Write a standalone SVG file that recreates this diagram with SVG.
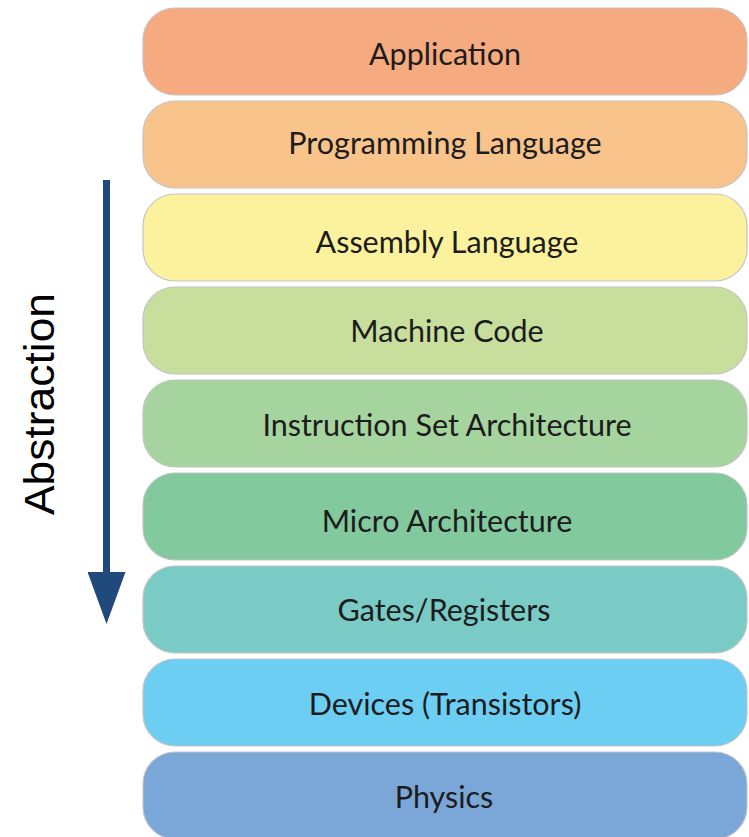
<svg xmlns="http://www.w3.org/2000/svg" width="749" height="837" viewBox="0 0 749 837">
  <style>
    .layer rect { stroke: #c4c4c4; stroke-width: 1.2; }
    .layer text { font-family: Lato, "Open Sans", "Liberation Sans", sans-serif; font-size: 30.5px; fill: #1c1c1c; text-anchor: middle; }
    .axis-label { font-family: "Liberation Sans", Arial, sans-serif; font-size: 42px; fill: #000; text-anchor: middle; }
  </style>
  <defs>
    <marker id="arrowHead" markerUnits="userSpaceOnUse" markerWidth="52" markerHeight="38" refX="0" refY="19" orient="auto" viewBox="0 0 52 38">
      <path d="M0,0 L52,19 L0,38 Z" fill="#214a7c"/>
    </marker>
  </defs>
  <rect width="749" height="837" fill="#ffffff"/>

  <!-- abstraction stack, top to bottom -->
  <g id="application" class="layer">
    <rect x="143" y="8" width="604" height="87" rx="32" fill="#f6aa80"/>
    <text x="445" y="65">Application</text>
  </g>
  <g id="programming-language" class="layer">
    <rect x="143" y="101" width="604" height="87" rx="32" fill="#f9c48c"/>
    <text x="445" y="154">Programming Language</text>
  </g>
  <g id="assembly-language" class="layer">
    <rect x="143" y="194" width="604" height="87" rx="32" fill="#fcf29d"/>
    <text x="447" y="253">Assembly Language</text>
  </g>
  <g id="machine-code" class="layer">
    <rect x="143" y="287" width="604" height="87" rx="32" fill="#c7de9d"/>
    <text x="447" y="342">Machine Code</text>
  </g>
  <g id="isa" class="layer">
    <rect x="143" y="380" width="604" height="87" rx="32" fill="#a6d49e"/>
    <text x="447" y="436">Instruction Set Architecture</text>
  </g>
  <g id="micro-architecture" class="layer">
    <rect x="143" y="473" width="604" height="87" rx="32" fill="#82c99d"/>
    <text x="447" y="532">Micro Architecture</text>
  </g>
  <g id="gates-registers" class="layer">
    <rect x="143" y="566" width="604" height="87" rx="32" fill="#7acbc5"/>
    <text x="444" y="621">Gates/Registers</text>
  </g>
  <g id="devices" class="layer">
    <rect x="143" y="659" width="604" height="87" rx="32" fill="#6ccef3"/>
    <text x="445" y="715">Devices (Transistors)</text>
  </g>
  <g id="physics" class="layer">
    <rect x="143" y="752" width="604" height="87" rx="32" fill="#7ba7d8"/>
    <text x="444" y="808">Physics</text>
  </g>

  <!-- direction of abstraction -->
  <g id="connectors">
    <line x1="106.5" y1="180" x2="106.5" y2="572" stroke="#214a7c" stroke-width="7" marker-end="url(#arrowHead)"/>
  </g>
  <g id="abstraction-label">
    <text class="axis-label" transform="translate(54,404) rotate(-90)" textLength="222" lengthAdjust="spacingAndGlyphs">Abstraction</text>
  </g>
</svg>
